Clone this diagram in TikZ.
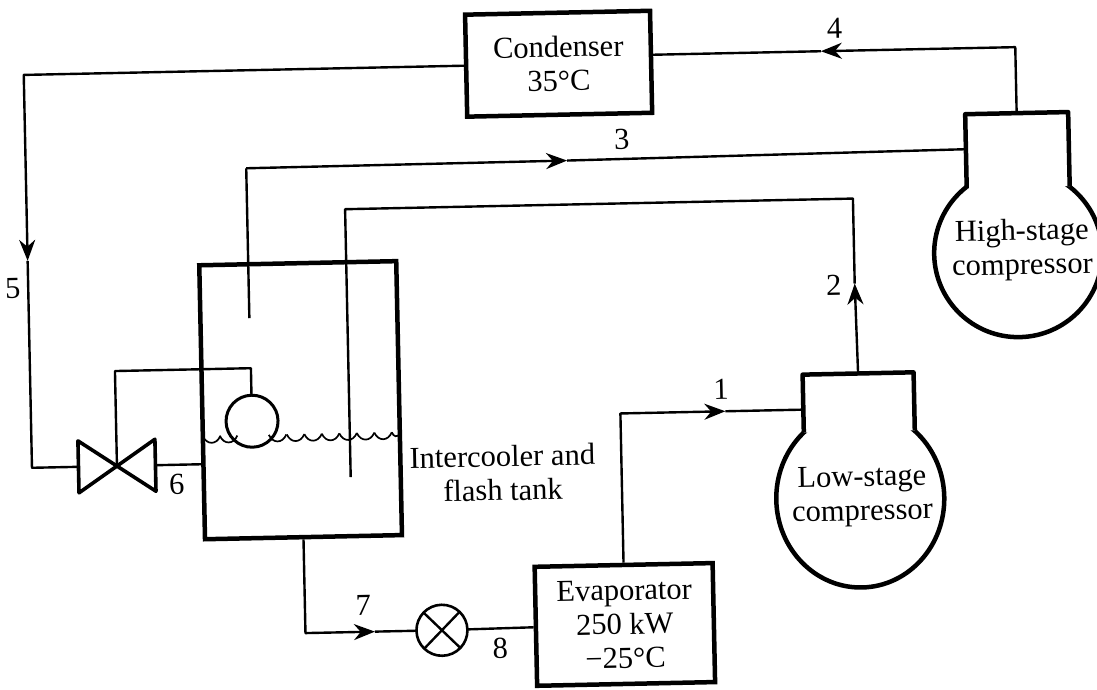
\documentclass[tikz,border=0pt]{standalone}
\usepackage{fontspec}
\setmainfont{Liberation Serif}
\usetikzlibrary{arrows.meta,shapes.geometric}
\tikzset{
  tag/.style={font=\fontsize{30.5}{34}\selectfont, align=center, inner sep=0pt},
  vessel/.style={line width=4.5pt, line join=round},
  pipe/.style={line width=2.4pt, line join=round},
  flow/.style={pipe, -{Stealth[length=21pt, width=16pt]}},
  ebox/.style={
    rectangle, draw, line width=4.5pt, tag,
    minimum width=#1
  },
  comp/.style={
    ellipse, draw, line width=4.5pt, inner sep=0pt
  },
  neck/.style={rectangle, fill=white, inner sep=0pt, outer sep=0pt},
  ball/.style={circle, draw, line width=3pt, inner sep=0pt, outer sep=0pt}
}

\begin{document}
\begin{tikzpicture}[x=1pt, y=-1pt]

\useasboundingbox (0,0) rectangle (1097,690);

\begin{scope}[rotate around={1.2:(548,345)}, transform shape]

\node[ebox=185pt, minimum height=102pt] (condenser) at (564.5,64) {Condenser\\35°C};

\node[ebox=197pt, minimum height=274pt] (tank) at (299.5,395) {};

\node[ebox=178pt, minimum height=119pt] (evaporator) at (619,626) {Evaporator\\250 kW\\−25°C};

\node[comp, minimum width=168pt, minimum height=178pt] (low) at (857,505) {};
\node[neck, minimum width=111pt, minimum height=58pt] (lowneck) at (857.5,409) {};
\draw[vessel] (lowneck.south west) |- (lowneck.north east) -- (lowneck.south east);
\node[tag] (lowtext) at (859,503) {Low-stage\\compressor};

\node[comp, minimum width=168pt, minimum height=168pt] (high) at (1020,263) {};
\node[neck, minimum width=103pt, minimum height=74pt] (highneck) at (1021.5,160) {};
\draw[vessel] (highneck.south west) |- (highneck.north east) -- (highneck.south east);
\node[tag] (hightext) at (1024,260) {High-stage\\compressor};

\node[ball, minimum size=52pt] (float) at (250.5,415) {};
\node[ball, minimum size=51pt, line width=2.6pt] (expansion) at (436,628) {};
\draw[pipe] (expansion.45) -- (expansion.225);
\draw[pipe] (expansion.135) -- (expansion.315);

\coordinate (valve) at (114.5,457);
\coordinate (valvein) at (76,457);
\coordinate (valveout) at (153,457);
\draw[vessel, line width=3.6pt] (76,431) -- (153,483) -- (153,431) -- (76,483) -- cycle;

\foreach \x in {201,218,267,285,302.5,320,337.5,355,372.5}
  \draw[line width=1.7pt] (\x,429) .. controls (\x+4,438) and (\x+13.5,438) .. (\x+17.5,429);
\draw[line width=1.7pt] (390,429) .. controls (392,434) and (395,434) .. (398,431);

\coordinate (arrow4) at (827,57);
\coordinate (top4) at (1021.5,57);
\draw[flow] (highneck.north) -- (top4) -- (arrow4);
\draw[pipe] (arrow4) -- (condenser.east |- arrow4);

\coordinate (arrow5) at (29.5,250);
\draw[flow] (condenser.west) -| (arrow5);
\draw[pipe] (arrow5) |- (valvein);
\draw[pipe] (valveout) -- (tank.west |- valveout);

\coordinate (tube3) at (250,312);
\coordinate (corner3) at (250,162);
\coordinate (arrow3) at (571,161);
\coordinate (end3) at (970,158);
\draw[pipe] (tube3) -- (corner3);
\draw[flow] (corner3) -- (arrow3);
\draw[pipe] (arrow3) -- (end3);

\coordinate (arrow2) at (856,290);
\coordinate (corner2) at (856,205);
\coordinate (corner2b) at (348,205);
\coordinate (tube2) at (348,473);
\draw[flow] (lowneck.north) -- (arrow2);
\draw[pipe] (arrow2) -- (corner2) -- (corner2b) -- (tube2);

\coordinate (arrow1) at (724,415);
\draw[flow] (evaporator.north) |- (arrow1);
\draw[pipe] (arrow1) -- (lowneck.west |- arrow1);

\coordinate (arrow7) at (369,628);
\draw[flow] (tank.south) |- (arrow7);
\draw[pipe] (arrow7) -- (expansion);
\draw[pipe] (expansion) -- (evaporator);

\coordinate (floatline) at (250.5,362);
\draw[pipe] (float.north) -- (floatline) -| (valve);

\node[tag] (n1) at (720,393) {1};
\node[tag] (n2) at (835,291) {2};
\node[tag] (n3) at (626,141) {3};
\node[tag] (n4) at (841,34) {4};
\node[tag] (n5) at (14,277) {5};
\node[tag] (n6) at (174,477) {6};
\node[tag] (n7) at (358,601) {7};
\node[tag] (n8) at (494,647) {8};
\node[tag] (tanklabel) at (500,472) {Intercooler and\\flash tank};

\end{scope}

\end{tikzpicture}
\end{document}
